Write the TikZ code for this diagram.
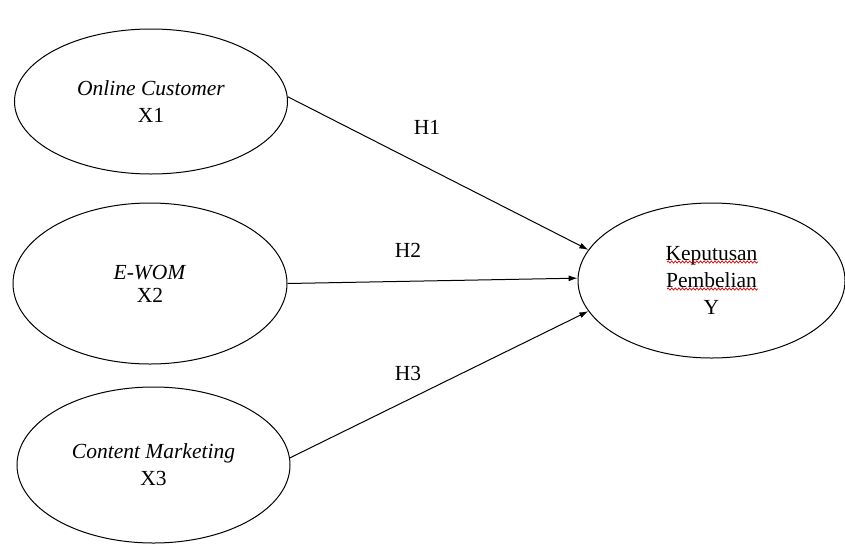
\documentclass[tikz,border=0pt]{standalone}
\usepackage{fontspec}
\setmainfont{Liberation Serif}
\usetikzlibrary{shapes.geometric,arrows.meta,decorations.pathmorphing}
\begin{document}
\begin{tikzpicture}[x=1pt,y=-1pt,
  varbox/.style={ellipse,draw,line width=1pt,inner sep=0pt,align=center,
    font=\fontsize{21.5}{27}\selectfont},
  hlabel/.style={inner sep=0pt,font=\fontsize{21.5}{24}\selectfont},
  path/.style={line width=1pt,-{Latex[length=9pt,width=6pt]}},
  spell/.style={red!85!black,line width=0.7pt,decorate,
    decoration={snake,amplitude=1.1pt,segment length=3.6pt}}]
\useasboundingbox (0,0) rectangle (845,544);
\node[varbox,minimum width=273pt,minimum height=145pt] (x1) at (151,101.5)
  {\textit{Online Customer}\\X1};
\node[varbox,minimum width=274pt,minimum height=161pt] (x2) at (150,283.5)
  {\textit{E-WOM}\\[-4pt]X2};
\node[varbox,minimum width=273pt,minimum height=156pt] (x3) at (153.5,465)
  {\textit{Content Marketing}\\X3};
\node[varbox,minimum width=267pt,minimum height=155pt] (y) at (711.5,280.5)
  {Keputusan\\Pembelian\\Y};
\draw[spell] (667,262) -- (758,262);
\draw[spell] (667,289) -- (758,289);
\node[hlabel] (h1) at (427,127) {H1};
\node[hlabel] (h2) at (408,250) {H2};
\node[hlabel] (h3) at (408,373) {H3};
\draw[path] (x1.2) -- (y.166);
\draw[path] (x2.east) -- (y.179);
\draw[path] (x3.3) -- (y.194);
\end{tikzpicture}
\end{document}
